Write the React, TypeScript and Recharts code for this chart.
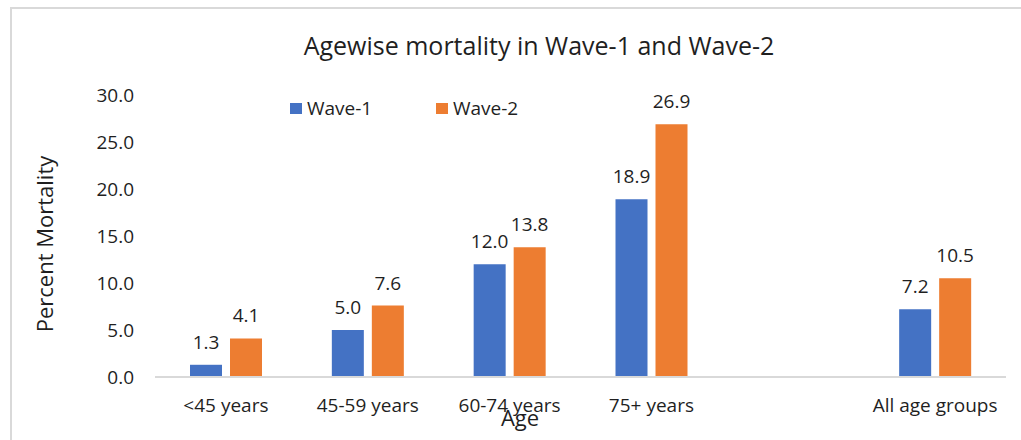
import { Bar, BarChart, LabelList, Legend, XAxis, YAxis } from "recharts";

const categories = ["<45 years", "45-59 years", "60-74 years", "75+ years", "", "All age groups"];
const wave1 = [1.3, 5.0, 12.0, 18.9, null, 7.2];
const wave2 = [4.1, 7.6, 13.8, 26.9, null, 10.5];
const yTicks = [0, 5, 10, 15, 20, 25, 30];

const TITLE = "Agewise mortality in Wave-1 and Wave-2";
const X_LABEL = "Age";
const Y_LABEL = "Percent Mortality";

const FONT = "'Open Sans', sans-serif";
const INK = "#1f1f1f";
const BLUE = "#4472C4";
const ORANGE = "#ED7D31";

const data = categories.map((age, i) => ({ age, wave1: wave1[i], wave2: wave2[i] }));

const fmt = (v: any) => (v == null || v === "" ? "" : Number(v).toFixed(1));

function LegendContent({ payload }: any) {
  return (
    <div style={{ display: "flex", fontFamily: FONT, fontSize: 19, lineHeight: "20px", color: INK }}>
      {(payload || []).map((p: any) => (
        <div key={p.value} style={{ display: "flex", alignItems: "center", width: 146 }}>
          <span style={{ width: 12, height: 11, background: p.color, marginRight: 5, display: "inline-block" }} />
          <span>{p.value}</span>
        </div>
      ))}
    </div>
  );
}

export default function App() {
  return (
    <div style={{ position: "absolute", left: 0, top: 0, width: 1021, height: 440, background: "#fff", overflow: "hidden" }}>
      <div
        style={{
          position: "absolute",
          left: 10,
          top: 7,
          width: 1020,
          height: 440,
          borderLeft: "2px solid #d9d9d9",
          borderTop: "2px solid #d9d9d9",
        }}
      />
      <BarChart
        width={1021}
        height={440}
        data={data}
        margin={{ top: 95, right: 15, bottom: 33, left: 0 }}
        barSize={32}
        barGap={8}
        style={{ position: "absolute", left: 0, top: 0 }}
      >
        <XAxis
          dataKey="age"
          axisLine={{ stroke: "#d9d9d9", strokeWidth: 2 }}
          tickLine={false}
          tickMargin={16}
          interval={0}
          tick={{ fontSize: 19, fill: INK, fontFamily: FONT }}
        />
        <YAxis
          width={155}
          domain={[0, 30]}
          ticks={yTicks}
          axisLine={false}
          tickLine={false}
          tickMargin={15}
          tickFormatter={(v) => Number(v).toFixed(1)}
          tick={{ fontSize: 19, fill: INK, fontFamily: FONT }}
        />
        <Legend
          layout="horizontal"
          verticalAlign="middle"
          align="center"
          content={<LegendContent />}
          wrapperStyle={{ top: 98, left: 290, width: 320, height: 22 }}
        />
        <Bar dataKey="wave1" name="Wave-1" fill={BLUE} isAnimationActive={false}>
          <LabelList dataKey="wave1" position="top" offset={16} formatter={fmt} style={{ fontSize: 19, fill: INK, fontFamily: FONT }} />
        </Bar>
        <Bar dataKey="wave2" name="Wave-2" fill={ORANGE} isAnimationActive={false}>
          <LabelList dataKey="wave2" position="top" offset={16} formatter={fmt} style={{ fontSize: 19, fill: INK, fontFamily: FONT }} />
        </Bar>
      </BarChart>
      <svg
        width={1021}
        height={440}
        style={{ position: "absolute", left: 0, top: 0, pointerEvents: "none" }}
        fontFamily={FONT}
        fill={INK}
      >
        <text x={539} y={55} textAnchor="middle" fontSize={25}>
          {TITLE}
        </text>
        <text transform="translate(53,244) rotate(-90)" textAnchor="middle" fontSize={22}>
          {Y_LABEL}
        </text>
        <text x={520} y={426} textAnchor="middle" fontSize={22}>
          {X_LABEL}
        </text>
      </svg>
    </div>
  );
}
